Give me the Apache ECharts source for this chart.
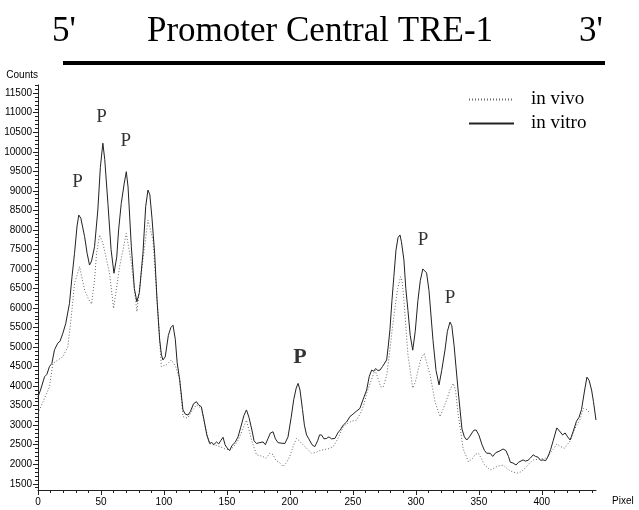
<!DOCTYPE html>
<html>
<head>
<meta charset="utf-8">
<script src="https://cdn.jsdelivr.net/npm/echarts@6/dist/echarts.min.js"></script>
<style>html,body{margin:0;padding:0;background:#fff}#c{width:639px;height:510px}</style>
</head>
<body>
<div id="c"></div>
<script>
// in vitro (solid) trace: pixel positions and counts
var vitroX = [0,2,5.2,7,9.1,11,13.1,15.7,17.5,19.7,22,25,27,29,31,32.4,34,37,39,40.9,42.5,44.9,47.5,49.5,51.5,53,55.5,58,60.3,62.5,64,66.1,68.5,70.1,71.5,74.1,76.5,78.5,80.5,83.3,85.5,87.3,88.8,90.5,92.6,94.5,96.6,98,99.2,101,103.5,105.5,107.2,109,110.5,112.5,115.1,117,119.1,121,123.5,125.8,127.5,129.7,132,134,136.3,138,139.5,141.7,143.5,145,146.9,148.5,150,152.2,154,156.5,158.8,161,163.5,165.5,167.5,170,171.5,173.5,175.5,177,178.7,180.5,182.5,184.5,186.6,188.5,190.6,193,196,198.5,201,203,205,206.5,208,210,211.5,213.2,215,217.5,219.8,222,223.5,225.1,227,229.1,231,233,235.7,238,240,242.3,245,247.6,250,252.5,255.6,258,260.9,263,264.9,266.5,268,269.8,271.5,273.5,275,276.8,278,279.4,281,282.5,284.2,285.8,287.4,288.5,290.5,292,293.7,295.5,297.5,299.5,301.6,303.5,305.5,306.7,308.5,310.4,313.6,316,318.4,320.5,323.1,325,327.1,328.5,330.3,333.5,336.6,338.5,340.4,342.5,344.5,346,347.8,350,352.5,354.5,356.3,359,361,363.5,366,369.2,371.5,373.5,375,377.2,379.5,381.5,383,385.1,387,389,391,393.1,395,397,399,401,403,405,407,409,411.9,414,416.5,418.5,420.5,422.5,425,427.5,429.5,431.5,434,435.8,437.5,439.5,441,443];
var vitroY = [3730,3900,4240,4300,4500,4580,4930,5100,5150,5350,5600,6120,6800,7400,8100,8380,8300,7830,7400,7100,7200,7570,8510,9600,10220,9800,8680,7500,6890,7300,8000,8680,9200,9490,9100,7570,6500,6160,6400,7400,8600,9020,8900,8300,7400,6200,5180,4800,4670,4750,5300,5500,5560,5200,4600,4160,3390,3280,3260,3350,3550,3600,3520,3470,3100,2750,2530,2560,2500,2570,2520,2600,2690,2500,2420,2350,2480,2560,2700,2950,3250,3390,3200,2850,2600,2530,2550,2500,2570,2500,2650,2800,2830,2650,2550,2540,2530,2700,3200,3650,3950,4070,3900,3400,3000,2750,2650,2500,2450,2600,2750,2750,2650,2660,2700,2650,2660,2800,2880,3000,3080,3220,3280,3350,3430,3650,3900,4250,4410,4380,4450,4400,4410,4500,4450,4670,5000,5440,6190,6800,7480,7800,7870,7700,7230,6500,5940,5300,4920,5400,6190,6700,7000,7050,6900,6450,5170,4400,4030,4400,4920,5400,5640,5550,5050,3900,2900,2700,2620,2700,2800,2870,2876,2750,2500,2350,2280,2280,2200,2300,2330,2390,2350,2200,2050,2030,1980,2050,2000,2110,2080,2100,2160,2240,2200,2180,2100,2110,2090,2200,2380,2600,2930,2850,2750,2800,2700,2620,2850,3100,3200,3400,3900,4230,4150,3900,3600,3130];
// in vivo (dotted) trace
var vivoX = [0,4,9.1,11.8,15.7,19.7,23.7,26.5,29,33,37,40.4,42.5,44.9,46.5,48.9,51.5,56.8,60,64.8,70.1,74.1,78.5,83.3,87.3,91.3,95,97.9,99.2,102.2,105.9,107.2,109.3,112.5,115.1,118.8,122,125.8,129.7,132.4,136.3,140,144.3,148,152.2,155.5,158.6,162,165.5,169.7,173.5,178.5,181,184,186.5,188.8,191.5,194.6,197.5,199.9,202.5,205.2,207.5,210.3,213.5,217.2,220.5,223.8,228,231,234.3,238,242.3,246,249,252.9,256,258.5,260.9,264,267.5,270,272,274.1,277,279.4,281,283.4,285.5,287.9,289,290.5,293.7,297.5,299.5,301.7,304,306.7,308.5,311.2,315.2,319.2,321.5,323.9,327,329.7,331.5,333.5,337.5,341.7,345,347,349.6,352,354.1,358.9,362,365,369.5,372,374.8,380.1,383,386.7,390,393.3,398,402.6,406,409,411.9,415,418,422.5,426,430.4,433,435.8,438,440.8];
var vivoY = [3300,3600,3980,4580,4670,4750,5010,5800,6630,7060,6460,6210,6100,6720,7400,7870,7660,6890,5990,7060,7910,7150,5910,7230,8250,7740,6000,4500,4500,4550,4670,4670,4500,4160,3220,3180,3350,3520,3430,3000,2530,2500,2450,2400,2360,2450,2600,2850,3130,2600,2240,2200,2150,2280,2250,2100,2050,1940,2050,2200,2450,2660,2600,2500,2400,2280,2300,2350,2380,2400,2450,2650,2960,3050,3100,3130,3300,3500,3810,4100,4410,4200,3980,3980,4300,4930,5400,6000,6500,6800,6700,6200,4800,3950,4100,4400,4700,4840,4600,4300,3600,3220,3400,3600,3900,4070,3900,3300,2400,2060,2150,2250,2280,2150,2000,1850,1900,1950,1980,1900,1830,1770,1800,1900,2020,2110,2130,2150,2250,2380,2520,2450,2410,2600,2900,3150,3430,3400,3310];
// peak annotations
var pLabelX = [31.4, 50.5, 69.6, 207.9, 305.6, 327.1];
var pLabelY = [9228, 10890, 10275, 4743, 7742, 6257];
var pLabelBold = [false, false, false, true, false, false];
// axis ticks
var yLabels = [];
for (var v = 1500; v <= 11500; v += 500) yLabels.push(v);
var yMinor = [];
for (var m = 1400; m <= 11700; m += 100) yMinor.push(m);
var xLabels = [0,50,100,150,200,250,300,350,400];
var xMinor = [];
for (var k = 0; k <= 440; k += 10) xMinor.push(k);

function pairs(xs, ys){ return xs.map(function(x,i){ return [x, ys[i]]; }); }

var chart = echarts.init(document.getElementById('c'));
var sans = 'Liberation Sans';
var serif = 'Liberation Serif';
chart.setOption({
  animation: false,
  backgroundColor: '#fff',
  grid: { left: 38, right: 43, top: 85, bottom: 20, containLabel: false },
  title: [
    { text: 'Promoter Central TRE-1', left: 142, top: 9, textStyle: { fontFamily: serif, fontSize: 35, fontWeight: 'normal', color: '#000' } },
    { text: "5'", left: 47, top: 9, textStyle: { fontFamily: serif, fontSize: 35, fontWeight: 'normal', color: '#000' } },
    { text: "3'", left: 574, top: 9, textStyle: { fontFamily: serif, fontSize: 35, fontWeight: 'normal', color: '#000' } }
  ],
  graphic: [
    { type: 'rect', shape: { x: 63, y: 61, width: 542, height: 4 }, style: { fill: '#000' } }
  ],
  legend: {
    data: ['in vivo', 'in vitro'],
    orient: 'vertical', left: 463, top: 85, itemWidth: 45, itemHeight: 14, itemGap: 5,
    itemStyle: { opacity: 0 },
    textStyle: { fontFamily: serif, fontSize: 19, color: '#000', padding: [0,0,0,12] }
  },
  xAxis: [
    { type: 'value', min: 0, max: 443, position: 'bottom',
      name: 'Pixel', nameLocation: 'end', nameGap: 16,
      nameTextStyle: { fontFamily: sans, fontSize: 10, color: '#000', verticalAlign: 'top', padding: [6,0,0,0] },
      axisLine: { lineStyle: { color: '#222', width: 1 } },
      axisTick: { show: true, length: 5, customValues: xLabels, lineStyle: { color: '#222' } },
      axisLabel: { customValues: xLabels, fontFamily: sans, fontSize: 10, color: '#000', margin: 7 },
      splitLine: { show: false } },
    { type: 'value', min: 0, max: 443, position: 'bottom',
      axisLine: { show: false },
      axisTick: { show: true, length: 3, customValues: xMinor, lineStyle: { color: '#222' } },
      axisLabel: { show: false }, splitLine: { show: false } }
  ],
  yAxis: [
    { type: 'value', min: 1340, max: 11710, position: 'left',
      name: 'Counts', nameLocation: 'end', nameGap: 5,
      nameTextStyle: { fontFamily: sans, fontSize: 10, color: '#000', align: 'right' },
      axisLine: { show: true, lineStyle: { color: '#222', width: 1 } },
      axisTick: { show: true, length: 5, customValues: yLabels, lineStyle: { color: '#222' } },
      axisLabel: { customValues: yLabels, formatter: function(val){ return String(val); }, fontFamily: sans, fontSize: 10, color: '#000', margin: 6 },
      splitLine: { show: false } },
    { type: 'value', min: 1340, max: 11710, position: 'left',
      axisLine: { show: false },
      axisTick: { show: true, length: 3, customValues: yMinor, lineStyle: { color: '#222' } },
      axisLabel: { show: false }, splitLine: { show: false } }
  ],
  series: [
    { name: 'in vivo', type: 'line', xAxisIndex: 0, yAxisIndex: 0, data: pairs(vivoX, vivoY),
      symbol: 'none', smooth: false, z: 2,
      lineStyle: { color: '#666', width: 1, type: [1, 2] }, itemStyle: { color: '#666' } },
    { name: 'in vitro', type: 'line', xAxisIndex: 0, yAxisIndex: 0, data: pairs(vitroX, vitroY),
      symbol: 'none', smooth: false, z: 3,
      lineStyle: { color: '#222', width: 1 }, itemStyle: { color: '#222' } },
    { name: 'P', type: 'scatter', xAxisIndex: 0, yAxisIndex: 0, symbolSize: 0, silent: true, z: 4,
      data: pLabelX.map(function(x, i){
        return { value: [x, pLabelY[i]],
          label: pLabelBold[i] ? { fontWeight: 'bold', fontSize: 22 } : {} };
      }),
      label: { show: true, position: 'inside', formatter: 'P', fontFamily: serif, fontSize: 19, color: '#000' } }
  ]
});
</script>
</body>
</html>
